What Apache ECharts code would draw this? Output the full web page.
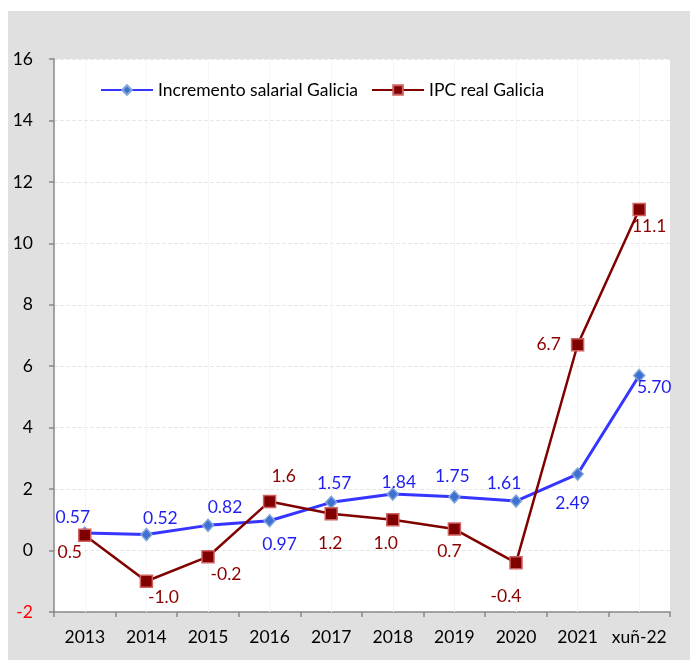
<!DOCTYPE html>
<html>
<head>
<meta charset="utf-8">
<script src="https://cdn.jsdelivr.net/npm/echarts@6/dist/echarts.min.js"></script>
<style>html,body{margin:0;padding:0;background:#fff}#c{width:690px;height:661px}</style>
</head>
<body>
<div id="c"></div>
<script>
var categories = ['2013','2014','2015','2016','2017','2018','2019','2020','2021','xuñ-22'];
var salaryValues = [0.57, 0.52, 0.82, 0.97, 1.57, 1.84, 1.75, 1.61, 2.49, 5.70];
var ipcValues = [0.5, -1.0, -0.2, 1.6, 1.2, 1.0, 0.7, -0.4, 6.7, 11.1];
var yTicks = [-2, 0, 2, 4, 6, 8, 10, 12, 14, 16];

var salaryOffsets = [[-12,-16],[14,-16],[17,-18],[10,24],[3,-19],[6,-12],[-2,-20],[-12,-18],[-5,29],[15,12]];
var ipcOffsets = [[-15,17],[17,16],[18,18],[14,-25],[-1,30],[-7,24],[-5,22],[-10,34],[-29,0],[10,17]];

var FONT = 'Lato';
var FS = 17.5;
var chart = echarts.init(document.getElementById('c'));

function mk(values, offsets, dec, color) {
  return values.map(function (v, i) {
    return {
      value: v,
      label: {
        show: true, position: 'inside', offset: offsets[i],
        formatter: v.toFixed(dec), color: color, fontSize: FS, fontFamily: FONT
      }
    };
  });
}

chart.setOption({
  animation: false,
  backgroundColor: '#ffffff',
  graphic: [{
    type: 'rect', z: -10, silent: true,
    shape: { x: 8, y: 11, width: 682, height: 649 },
    style: { fill: '#e0e0e0' }
  }],
  grid: { left: 54, right: 20, top: 59, bottom: 49, show: true, backgroundColor: '#ffffff', borderWidth: 0 },
  legend: {
    left: 95, top: 76, itemWidth: 52, itemHeight: 12, itemGap: 13,
    textStyle: { fontSize: FS, fontFamily: FONT, color: '#000' },
    data: ['Incremento salarial Galicia', 'IPC real Galicia']
  },
  xAxis: {
    type: 'category', data: categories, boundaryGap: true,
    axisLine: { onZero: false, lineStyle: { color: '#888888', width: 1.5 } },
    axisTick: { show: true, length: 5, interval: 0, lineStyle: { color: '#888888', width: 1.5 } },
    axisLabel: { fontSize: FS, fontFamily: FONT, color: '#000', margin: 16, interval: 0 },
    splitLine: { show: false }
  },
  yAxis: {
    type: 'value', min: -2, max: 16, interval: 2,
    axisLine: { show: true, lineStyle: { color: '#888888', width: 1.5 } },
    axisTick: { show: true, length: 5, lineStyle: { color: '#888888', width: 1.5 } },
    axisLabel: {
      fontSize: FS, fontFamily: FONT, margin: 21,
      formatter: function (v) { return yTicks.indexOf(v) >= 0 ? String(v) : ''; },
      color: function (v) { return Number(v) < 0 ? '#ff0000' : '#000000'; }
    },
    splitLine: { show: true, lineStyle: { color: '#e8e8e8', type: 'dashed', width: 1 } }
  },
  series: [
    {
      name: 'Incremento salarial Galicia', type: 'line',
      data: mk(salaryValues, salaryOffsets, 2, '#1f1ff0'),
      symbol: 'diamond', symbolSize: [11, 12],
      lineStyle: { color: '#3535ff', width: 3 },
      itemStyle: { color: '#3f6fd0', borderColor: '#7fa6d8', borderWidth: 1.5 },
      z: 3,
      markLine: {
        silent: true, symbol: 'none', label: { show: false },
        lineStyle: { color: '#ececec', type: 'dotted', width: 1 },
        data: categories.map(function (c) { return { xAxis: c }; }),
        z: 1
      }
    },
    {
      name: 'IPC real Galicia', type: 'line',
      data: mk(ipcValues, ipcOffsets, 1, '#8b0000'),
      symbol: 'rect', symbolSize: 12,
      lineStyle: { color: '#800000', width: 2.5 },
      itemStyle: { color: '#800000', borderColor: '#d06060', borderWidth: 1.5 },
      z: 4
    }
  ]
});
</script>
</body>
</html>
